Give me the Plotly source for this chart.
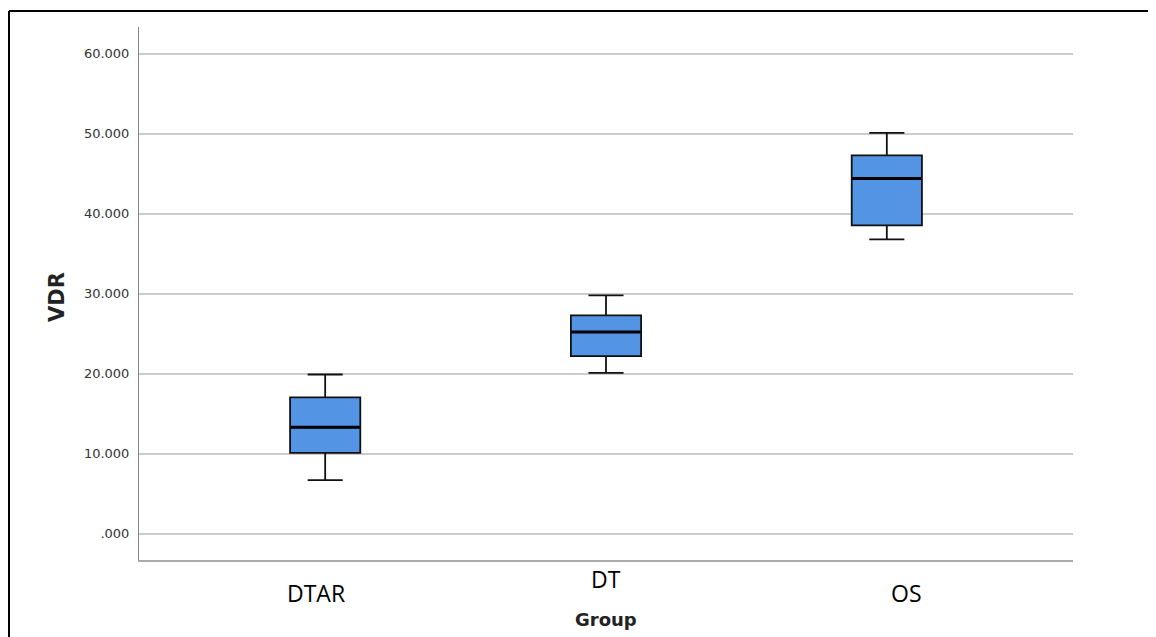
import plotly.graph_objects as go

# Data
groups = ["DTAR", "DT", "OS"]
lower_whisker = [6.7, 20.1, 36.8]
q1_vals = [10.1, 22.2, 38.55]
median_vals = [13.3, 25.2, 44.4]
q3_vals = [17.05, 27.3, 47.3]
upper_whisker = [19.9, 29.8, 50.1]

y_tickvals = [0, 10, 20, 30, 40, 50, 60]
y_ticktext = [".000", "10.000", "20.000", "30.000", "40.000", "50.000", "60.000"]

# label placement (paper coords) as in reference
label_x = [0.1898, 0.4998, 0.8213]
label_y = [-0.0619, -0.0356, -0.0610]

# page has an 8px body margin; figure is sized to fit the window
OFF = 8
W, H = 1156 - OFF, 637 - OFF
ML, MR, MT, MB = 139 - OFF, 83, 27 - OFF, 77

fig = go.Figure()
fig.add_trace(go.Box(
    x=groups, q1=q1_vals, median=median_vals, q3=q3_vals,
    lowerfence=lower_whisker, upperfence=upper_whisker,
    fillcolor="#5394e4", line=dict(color="#111111", width=1.8),
    width=0.25, whiskerwidth=0.5, boxpoints=False, showlegend=False,
))
# thicker median line overlay
fig.add_trace(go.Box(
    x=groups, q1=median_vals, median=median_vals, q3=median_vals,
    lowerfence=median_vals, upperfence=median_vals,
    fillcolor="rgba(0,0,0,0)", line=dict(color="#000000", width=3),
    width=0.245, whiskerwidth=0, boxpoints=False, showlegend=False,
    hoverinfo="skip",
))

annotations = []
for g, lx, ly in zip(groups, label_x, label_y):
    annotations.append(dict(text=g, xref="paper", yref="paper", x=lx, y=ly,
                            xanchor="center", yanchor="middle", showarrow=False,
                            font=dict(family="Open Sans", size=23, color="#000000")))
annotations.append(dict(text="<b>Group</b>", xref="paper", yref="paper", x=0.5, y=-0.1107,
                        xanchor="center", yanchor="middle", showarrow=False,
                        font=dict(family="DejaVu Sans", size=18, color="#222222")))
annotations.append(dict(text="<b>VDR</b>", xref="paper", yref="paper", x=-0.0876, y=0.494,
                        xanchor="center", yanchor="middle", showarrow=False, textangle=-90,
                        font=dict(family="DejaVu Sans", size=21, color="#222222")))

pw = W - ML - MR
ph = H - MT - MB
# outer frame: left and top edges only (the rest runs off the picture)
shapes = [
    dict(type="line", xref="paper", yref="paper",
         x0=(1 - ML) / pw, x1=(W + 40 - ML) / pw,
         y0=1 + (MT - 3) / ph, y1=1 + (MT - 3) / ph,
         line=dict(color="#000000", width=2)),
    dict(type="line", xref="paper", yref="paper",
         x0=(1 - ML) / pw, x1=(1 - ML) / pw,
         y0=1 + (MT - 3) / ph, y1=-(H + 40 - (H - MB)) / ph,
         line=dict(color="#000000", width=2)),
]

fig.update_layout(
    width=W, height=H,
    margin=dict(l=ML, r=MR, t=MT, b=MB),
    paper_bgcolor="white", plot_bgcolor="white",
    annotations=annotations, shapes=shapes,
    xaxis=dict(type="category", range=[-0.663, 2.663], showticklabels=False,
               showgrid=False, showline=True, linecolor="#aaaaaa", linewidth=2,
               zeroline=False, ticks=""),
    yaxis=dict(range=[-3.29, 63.34], tickvals=y_tickvals, ticktext=y_ticktext,
               showgrid=True, gridcolor="#cccccc", gridwidth=1.5,
               showline=True, linecolor="#888888", linewidth=1, zeroline=False,
               ticks="", ticklabelstandoff=6,
               tickfont=dict(family="DejaVu Sans", size=13, color="#333333")),
)

fig.write_html("out.html")
